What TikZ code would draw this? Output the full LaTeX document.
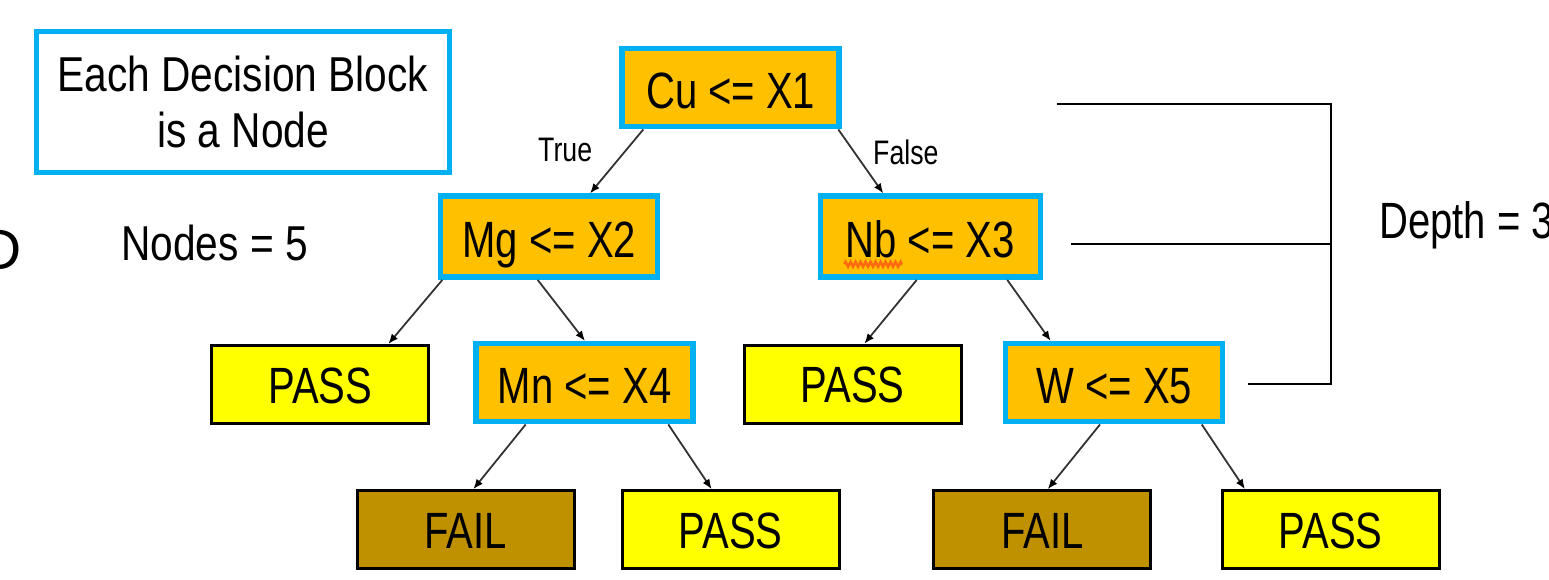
\documentclass[tikz,border=0pt]{standalone}
\usepackage{fontspec}
\setmainfont{Liberation Sans}
\newfontfamily\boxfont[FakeStretch=0.785]{Liberation Sans}
\newfontfamily\labfont[FakeStretch=0.83]{Liberation Sans}
\usetikzlibrary{arrows.meta,calc,decorations.pathmorphing}
\definecolor{bblue}{HTML}{00B0F0}
\definecolor{borange}{HTML}{FFC000}
\definecolor{byellow}{HTML}{FFFF00}
\definecolor{bgold}{HTML}{BF9000}
\definecolor{arrowgray}{HTML}{333333}
\definecolor{squig}{HTML}{FF6A10}
\begin{document}
\begin{tikzpicture}[x=1pt,y=-1pt,
  decision/.style={draw=bblue, line width=5.5pt, fill=borange, minimum width=217pt, minimum height=78pt, inner sep=0pt, font=\boxfont\fontsize{51}{61}\selectfont, text height=41pt, text depth=0pt},
  leafpass/.style={draw=black, line width=3pt, fill=byellow, minimum width=217pt, minimum height=78pt, inner sep=0pt, font=\boxfont\fontsize{51}{61}\selectfont, text height=37.5pt, text depth=0pt},
  leaffail/.style={leafpass, fill=bgold},
  edge/.style={draw=arrowgray, line width=1.8pt, -{Latex[length=10pt,width=8pt,color=black]}},
  bracket/.style={draw=black, line width=2pt},
  edgelab/.style={anchor=base west, inner sep=0pt, font=\boxfont\fontsize{34}{40}\selectfont},
  plainlab/.style={anchor=base west, inner sep=0pt},
]
\path[use as bounding box] (0,0) rectangle (1549,580);

% info box and side texts
\node[draw=bblue, line width=5pt, minimum width=413pt, minimum height=141pt, align=center, inner sep=0pt,
      font=\labfont\fontsize{49}{56}\selectfont] (info) at (243,102) {Each Decision Block\\is a Node};
\node[plainlab, font=\labfont\fontsize{49}{56}\selectfont] (nodescount) at (121,260) {Nodes = 5};
\node[plainlab, font=\boxfont\fontsize{51}{61}\selectfont] (depth) at (1379,238.3) {Depth = 3};
\node[anchor=base east, inner sep=0pt, font=\fontsize{57}{68}\selectfont] (dcut) at (22,269) {D};

% decision nodes
\node[decision] (cu) at (730.7,87.7) {Cu <= X1};
\node[decision, minimum height=81pt] (mg) at (549.2,236.7) {Mg <= X2};
\node[decision, minimum height=81pt, minimum width=220pt] (nb) at (930.3,236.7) {Nb <= X3};
\node[decision] (mn) at (584.5,382.7) {Mn <= X4};
\node[decision] (w) at (1114.2,382.7) {W <= X5};

% leaves
\node[leafpass] (p1) at (320.3,384.5) {PASS};
\node[leafpass] (p2) at (852.5,384.2) {PASS};
\node[leaffail] (f1) at (465.7,529.7) {FAIL};
\node[leafpass] (p3) at (730.7,529.7) {PASS};
\node[leaffail] (f2) at (1042.3,529.7) {FAIL};
\node[leafpass] (p4) at (1330.5,529.7) {PASS};

% spell-check squiggle under Nb
\draw[decorate, decoration={zigzag, segment length=5pt, amplitude=2.5pt}, draw=squig, line width=2.5pt]
  ($(nb.center)+(-86,27.5)$) -- ($(nb.center)+(-28,27.5)$);

% edges
\draw[edge] ([xshift=-87.4pt]cu.south) -- ([xshift=40.8pt]mg.north);
\draw[edge] ([xshift=107.6pt]cu.south) -- ([xshift=-47pt]nb.north);
\draw[edge] ([xshift=-106.9pt]mg.south) -- ([xshift=68pt]p1.north);
\draw[edge] ([xshift=-11.5pt]mg.south) -- ([xshift=0.5pt]mn.north);
\draw[edge] ([xshift=-13.6pt]nb.south) -- ([xshift=11.8pt]p2.north);
\draw[edge] ([xshift=77pt]nb.south) -- ([xshift=-63.5pt]w.north);
\draw[edge] ([xshift=-58.8pt]mn.south) -- ([xshift=7.6pt]f1.north);
\draw[edge] ([xshift=83.8pt]mn.south) -- ([xshift=-19pt]p3.north);
\draw[edge] ([xshift=-14.2pt]w.south) -- ([xshift=5.4pt]f2.north);
\draw[edge] ([xshift=87.5pt]w.south) -- ([xshift=-85.5pt]p4.north);

\node[edgelab] (truelab) at (538,161.7) {True};
\node[edgelab] (falselab) at (873,165) {False};

% depth bracket
\coordinate (b1) at (1057,104);
\coordinate (c1) at (1331,104);
\coordinate (b2) at (1071,244);
\coordinate (c2) at (1331,244);
\coordinate (b3) at (1248,384);
\coordinate (c3) at (1331,384);
\draw[bracket] (b1) -- (c1) -- (c3) -- (b3);
\draw[bracket] (b2) -- (c2);
\end{tikzpicture}
\end{document}
